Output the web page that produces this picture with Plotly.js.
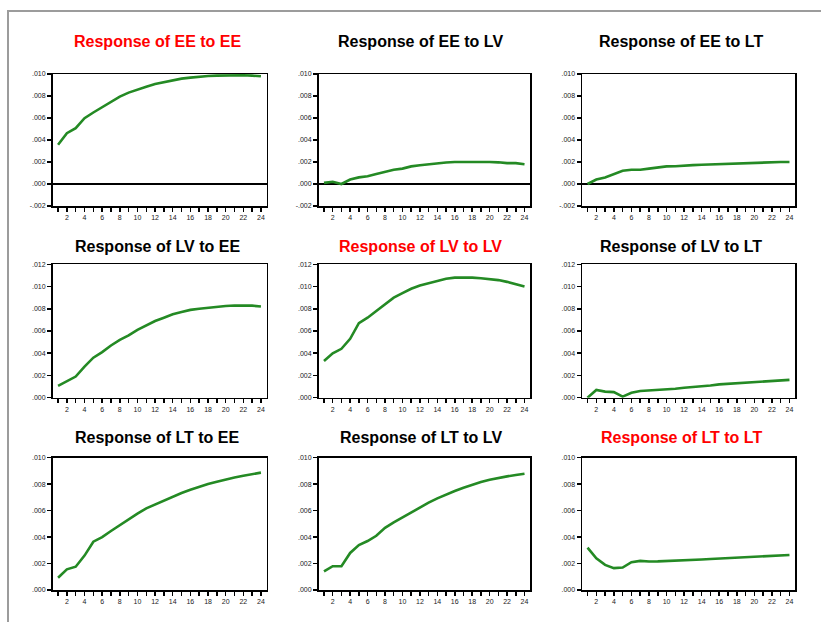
<!DOCTYPE html>
<html>
<head>
<meta charset="utf-8">
<script src="https://cdn.plot.ly/plotly-3.0.1.min.js"></script>
<style>
  html, body { margin: 0; padding: 0; background: #ffffff; }
  #wrap { position: relative; width: 821px; height: 622px; }
  #chart { position: absolute; left: 0; top: 0; width: 821px; height: 622px; }
  #frame { position: absolute; left: 7px; top: 10px; width: 814px; height: 612px;
           border-top: 2px solid #9c9c9c; border-left: 2px solid #9c9c9c; box-sizing: border-box;
           pointer-events: none; }
</style>
</head>
<body>
<div id="wrap">
  <div id="chart"></div>
  <div id="frame"></div>
</div>
<script>
// Periods
const periods = [1,2,3,4,5,6,7,8,9,10,11,12,13,14,15,16,17,18,19,20,21,22,23,24];

// Panel titles (row-major)
const titles = [
  "Response of EE to EE", "Response of EE to LV", "Response of EE to LT",
  "Response of LV to EE", "Response of LV to LV", "Response of LV to LT",
  "Response of LT to EE", "Response of LT to LV", "Response of LT to LT"
];
const titleColors = ["#ff0000","#000000","#000000","#000000","#ff0000","#000000","#000000","#000000","#ff0000"];

// Impulse responses
const eeToEE = [0.00356,0.00462,0.00508,0.00598,0.00650,0.00698,0.00749,0.00795,0.00831,0.00861,0.00885,0.00909,0.00927,0.00946,0.00958,0.00967,0.00976,0.00982,0.00985,0.00988,0.00988,0.00988,0.00985,0.00979];
const eeToLV = [0.0001,0.0002,0.0000,0.0004,0.0006,0.0007,0.0009,0.0011,0.0013,0.0014,0.0016,0.0017,0.0018,0.0019,0.00195,0.0020,0.0020,0.00205,0.00205,0.0020,0.00197,0.0019,0.0019,0.0018];
const eeToLT = [0.0000,0.0004,0.0006,0.0009,0.0012,0.0013,0.0013,0.0014,0.0015,0.0016,0.00162,0.0017,0.00172,0.00175,0.00178,0.0018,0.00185,0.0019,0.0019,0.0019,0.00195,0.0020,0.0020,0.0020];
const lvToEE = [0.00106,0.00146,0.0019,0.0028,0.0036,0.0041,0.0047,0.0052,0.0056,0.0061,0.0065,0.0069,0.0072,0.0075,0.0077,0.0079,0.0080,0.0081,0.0082,0.00825,0.0083,0.0083,0.00828,0.0082];
const lvToLV = [0.0033,0.0040,0.0044,0.0053,0.0067,0.0072,0.0078,0.0084,0.0090,0.0094,0.0098,0.0101,0.0103,0.0105,0.0107,0.0108,0.01082,0.0108,0.01075,0.01068,0.01058,0.01042,0.01022,0.0100];
const lvToLT = [0.0000,0.0007,0.00055,0.0005,0.0001,0.00045,0.0006,0.00065,0.00065,0.00075,0.0008,0.0009,0.00095,0.00105,0.0011,0.0012,0.00125,0.0013,0.00135,0.0014,0.0015,0.00155,0.0016,0.0016];
const ltToEE = [0.00093,0.00156,0.00176,0.0026,0.00365,0.0040,0.00446,0.0049,0.00537,0.00577,0.00617,0.00647,0.00678,0.00705,0.00733,0.00758,0.00781,0.00801,0.00819,0.00836,0.00851,0.00864,0.00877,0.00887];
const ltToLV = [0.0014,0.0018,0.0018,0.0028,0.0034,0.0037,0.0041,0.0047,0.00511,0.00549,0.00587,0.00625,0.00660,0.00693,0.00723,0.00748,0.00773,0.00796,0.00816,0.00834,0.00849,0.00859,0.00869,0.00879];
const ltToLT = [0.0032,0.0024,0.0019,0.00165,0.0017,0.0021,0.0022,0.00215,0.00216,0.00218,0.0022,0.00223,0.00227,0.00231,0.00234,0.00237,0.0024,0.00243,0.00246,0.00249,0.00252,0.00256,0.0026,0.00265];

const seriesList = [eeToEE, eeToLV, eeToLT, lvToEE, lvToLV, lvToLT, ltToEE, ltToLV, ltToLT];

// Y tick values / labels per row
const yTicksRow1 = [-0.002,0.000,0.002,0.004,0.006,0.008,0.010];
const yLabelsRow1 = ["-.002",".000",".002",".004",".006",".008",".010"];
const yTicksRow2 = [0.000,0.002,0.004,0.006,0.008,0.010,0.012];
const yLabelsRow2 = [".000",".002",".004",".006",".008",".010",".012"];
const yTicksRow3 = [0.000,0.002,0.004,0.006,0.008,0.010];
const yLabelsRow3 = [".000",".002",".004",".006",".008",".010"];
const xLabels = periods.map(p => (p % 2 === 0 ? String(p) : ""));

const W = 821, H = 622;
const colPx = [[52.5, 266.5], [318.5, 530], [582, 795]];
const rowPx = [[74, 206], [264.3, 397.7], [457.7, 590]];
const titleX = [157, 420.5, 681];
const titleY = [41.5, 246, 437];
const rowRanges = [[-0.002, 0.010], [0, 0.012], [0, 0.010]];
const rowTicks = [[yTicksRow1, yLabelsRow1], [yTicksRow2, yLabelsRow2], [yTicksRow3, yLabelsRow3]];

const traces = [];
const layout = {
  width: W, height: H,
  margin: {l: 0, r: 0, t: 0, b: 0},
  paper_bgcolor: "#ffffff",
  plot_bgcolor: "#ffffff",
  showlegend: false,
  font: {family: "Liberation Sans, Arial, sans-serif"},
  annotations: []
};

for (let i = 0; i < 9; i++) {
  const r = Math.floor(i / 3), c = i % 3;
  const n = i === 0 ? "" : String(i + 1);
  traces.push({
    x: periods, y: seriesList[i],
    xaxis: "x" + n, yaxis: "y" + n,
    type: "scatter", mode: "lines",
    line: {color: "rgb(36,138,36)", width: 2.6},
    hoverinfo: "skip"
  });
  layout["xaxis" + n] = {
    domain: [colPx[c][0] / W, colPx[c][1] / W],
    anchor: "y" + n,
    range: [0.37, 24.63],
    tickmode: "array", tickvals: periods, ticktext: xLabels,
    ticks: "outside", ticklen: 4, tickwidth: 1.5, tickcolor: "#000",
    showline: true, mirror: true, linecolor: "#000", linewidth: 1.5,
    showgrid: false, zeroline: false,
    tickfont: {size: 7, color: "#222", family: "Liberation Sans, Arial, sans-serif"},
    fixedrange: true
  };
  layout["yaxis" + n] = {
    domain: [1 - rowPx[r][1] / H, 1 - rowPx[r][0] / H],
    anchor: "x" + n,
    range: rowRanges[r],
    tickmode: "array", tickvals: rowTicks[r][0], ticktext: rowTicks[r][1],
    ticks: "outside", ticklen: 4, tickwidth: 1.5, tickcolor: "#000",
    showline: true, mirror: true, linecolor: "#000", linewidth: 1.5,
    showgrid: false,
    zeroline: r === 0, zerolinecolor: "#000", zerolinewidth: 1.5,
    tickfont: {size: 7, color: "#222", family: "Liberation Sans, Arial, sans-serif"},
    fixedrange: true
  };
  layout.annotations.push({
    text: "<b>" + titles[i] + "</b>",
    xref: "paper", yref: "paper",
    x: titleX[c] / W, y: 1 - titleY[r] / H,
    xanchor: "center", yanchor: "middle",
    showarrow: false,
    font: {size: 16, color: titleColors[i], family: "Liberation Sans, Arial, sans-serif"}
  });
}

Plotly.newPlot("chart", traces, layout, {displayModeBar: false, staticPlot: true});
</script>
</body>
</html>
